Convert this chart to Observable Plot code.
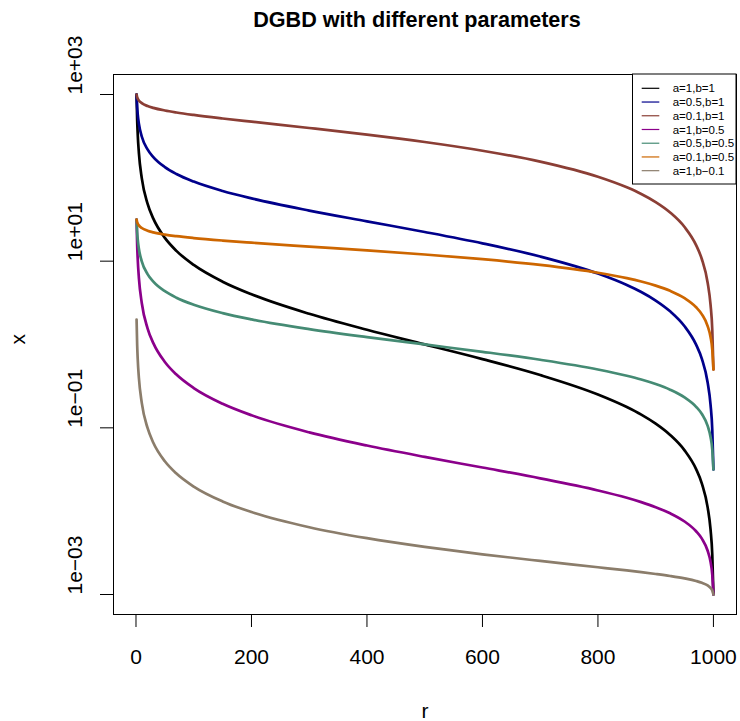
<!DOCTYPE html>
<html>
<head>
<meta charset="utf-8">
<script src="https://cdn.jsdelivr.net/npm/d3@7"></script>
<script src="https://cdn.jsdelivr.net/npm/@observablehq/plot@0.6"></script>
<style>
  html, body { margin: 0; padding: 0; background: #fff; }
  #chart svg { display: block; }
</style>
</head>
<body>
<div id="chart"></div>
<script>
// Rank positions r at which each DGBD curve is sampled
const rValues = [1, 2, 3, 5, 10, 20, 30, 50, 70, 100, 150, 200, 300, 400, 500,
  600, 700, 800, 850, 875, 900, 925, 950, 970, 980, 990, 995, 998, 1000];

// Series labels and colours, in drawing order
const seriesLabels = ["a=1,b=1", "a=0.5,b=1", "a=0.1,b=1", "a=1,b=0.5",
  "a=0.5,b=0.5", "a=0.1,b=0.5", "a=1,b\u22120.1"];
const seriesColors = ["#000000", "#00008B", "#8B3E35", "#8B008B",
  "#458B74", "#CD6600", "#8B7D6B"];

// x values of each series at the ranks above
const xA1B1 = [1000, 499.5, 332.7, 199.2, 99.1, 49.05, 32.37, 19.02, 13.30, 9.01,
  5.673, 4.005, 2.337, 1.5025, 1.002, 0.6683, 0.43, 0.2513, 0.1776, 0.144, 0.1122, 0.08216,
  0.05368, 0.03196, 0.02143, 0.01111, 0.00603, 0.003006, 0.001];
const xA05B1 = [1000, 706.4, 576.2, 445.4, 313.4, 219.4, 177.3, 134.5, 111.3, 90.1,
  69.49, 56.64, 40.47, 30.05, 22.41, 16.37, 11.38, 7.107, 5.179, 4.260, 3.367, 2.499,
  1.655, 0.9954, 0.6708, 0.3496, 0.1902, 0.09497, 0.03162];
const xA01B1 = [1000, 932.1, 894.2, 848.0, 787.2, 727.0, 691.0, 643.1, 608.8, 568.5,
  515.6, 471.6, 396.3, 330.1, 269.1, 211.5, 156.3, 103.0, 76.92, 64.0, 51.15, 38.39,
  25.69, 15.58, 10.55, 5.518, 3.009, 1.504, 0.5012];
const xA1B05 = [31.62, 15.80, 10.53, 6.312, 3.148, 1.566, 1.039, 0.6168, 0.4359, 0.3002,
  0.1945, 0.1415, 0.08825, 0.06129, 0.04477, 0.03338, 0.02478, 0.01772, 0.01446, 0.01283, 0.01117, 0.009425,
  0.007517, 0.00574, 0.004676, 0.00335, 0.002462, 0.001736, 0.001];
const xA05B05 = [31.62, 22.35, 18.24, 14.11, 9.955, 7.004, 5.689, 4.361, 3.647, 3.002,
  2.382, 2.001, 1.529, 1.226, 1.001, 0.8175, 0.6557, 0.5013, 0.4214, 0.3795, 0.335, 0.2866,
  0.2317, 0.1788, 0.1464, 0.1054, 0.07765, 0.05483, 0.03162];
const xA01B05 = [31.62, 29.49, 28.30, 26.87, 25.01, 23.21, 22.18, 20.85, 19.95, 18.94,
  17.67, 16.66, 14.97, 13.47, 12.02, 10.56, 9.009, 7.266, 6.26, 5.701, 5.09, 4.403,
  3.598, 2.799, 2.301, 1.664, 1.228, 0.8683, 0.5012];
const xA1B01 = [1.995, 0.9975, 0.665, 0.3989, 0.1994, 0.09958, 0.06631, 0.03971, 0.0283, 0.01974,
  0.01309, 0.009758, 0.00642, 0.00474, 0.003724, 0.003035, 0.002528, 0.002124, 0.001943, 0.001854, 0.001762, 0.001667,
  0.00156, 0.001454, 0.001383, 0.001284, 0.001202, 0.001118, 0.001];
const seriesValues = [xA1B1, xA05B1, xA01B1, xA1B05, xA05B05, xA01B05, xA1B01];

// Axis ticks
const xTicks = [0, 200, 400, 600, 800, 1000];
const yTicks = [1e-3, 1e-1, 1e1, 1e3];
const yTickLabels = ["1e\u221203", "1e\u221201", "1e+01", "1e+03"];

const titleText = "DGBD with different parameters";
const xLabel = "r";
const yLabel = "x";

// Long-format rows for the line mark
const rows = seriesLabels.flatMap((s, i) =>
  rValues.map((r, j) => ({series: s, r, x: seriesValues[i][j]})));

const W = 740, H = 721;
const margin = {top: 74, right: 4, bottom: 107, left: 113};
const font = "'Liberation Sans', Arial, Helvetica, sans-serif";

const svg = Plot.plot({
  width: W,
  height: H,
  marginTop: margin.top,
  marginRight: margin.right,
  marginBottom: margin.bottom,
  marginLeft: margin.left,
  style: {fontFamily: font, background: "#fff", color: "#000"},
  x: {domain: [1 - 0.04 * 999, 1000 + 0.04 * 999]},
  y: {type: "log", domain: [10 ** -3.24, 10 ** 3.24]},
  color: {domain: seriesLabels, range: seriesColors},
  marks: [
    Plot.frame({stroke: "#000", strokeWidth: 1}),
    Plot.axisX({ticks: xTicks, tickSize: 13, tickFormat: () => "", label: null, strokeWidth: 1}),
    Plot.axisY({ticks: yTicks, tickSize: 13, tickFormat: () => "", label: null, strokeWidth: 1}),
    Plot.text(xTicks, {x: d => d, text: d => String(d), frameAnchor: "bottom",
      dy: 43, fontSize: 21, lineAnchor: "middle", fill: "#000"}),
    Plot.text(yTicks, {y: d => d, text: (d, i) => yTickLabels[i], frameAnchor: "left",
      dx: -38, rotate: -90, fontSize: 21, lineAnchor: "middle", fill: "#000"}),
    Plot.text([xLabel], {frameAnchor: "bottom", dy: 97, fontSize: 21, lineAnchor: "middle", fill: "#000"}),
    Plot.text([yLabel], {frameAnchor: "left", dx: -95, rotate: -90, fontSize: 21, lineAnchor: "middle", fill: "#000"}),
    Plot.text([titleText], {frameAnchor: "top", dy: -54, dx: -8, fontSize: 21.6, fontWeight: "bold",
      lineAnchor: "middle", fill: "#000"}),
    Plot.line(rows, {x: "r", y: "x", z: "series", stroke: "series", strokeWidth: 2.7,
      curve: "monotone-x", strokeLinejoin: "round", strokeLinecap: "round"})
  ]
});

// Legend box in the top-right corner of the plot region
const lg = {left: 632.5, right: W - margin.right, top: margin.top, bottom: 184,
  firstRow: 88.3, rowStep: 13.73, lineX1: 641.7, lineX2: 659.3, textX: 672.7};
const g = d3.select(svg).append("g")
  .attr("font-family", font).attr("font-size", 11.5).attr("text-anchor", "start");
g.append("rect")
  .attr("x", lg.left).attr("y", lg.top)
  .attr("width", lg.right - lg.left).attr("height", lg.bottom - lg.top)
  .attr("fill", "#fff").attr("stroke", "#000").attr("stroke-width", 1);
seriesLabels.forEach((s, i) => {
  const y = lg.firstRow + i * lg.rowStep;
  g.append("line").attr("x1", lg.lineX1).attr("x2", lg.lineX2)
    .attr("y1", y).attr("y2", y)
    .attr("stroke", seriesColors[i]).attr("stroke-width", 1.2);
  g.append("text").attr("x", lg.textX).attr("y", y).attr("dy", "0.35em")
    .attr("text-anchor", "start").attr("fill", "#000").text(s);
});

document.getElementById("chart").appendChild(svg);
</script>
</body>
</html>
